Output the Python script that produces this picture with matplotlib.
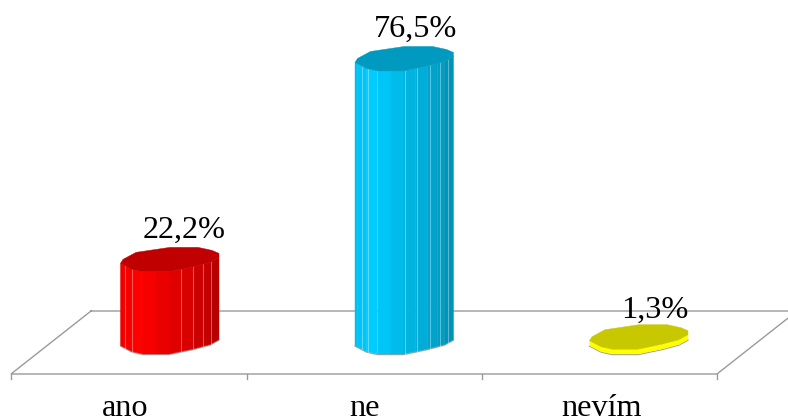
import numpy as np
import matplotlib
matplotlib.use("Agg")
import matplotlib.pyplot as plt
from matplotlib.patches import Polygon

# Survey answers and their shares in percent
categories = ["ano", "ne", "nevím"]
values = [22.2, 76.5, 1.3]
value_labels = ["22,2%", "76,5%", "1,3%"]

side_colors = [(1.0, 0.0, 0.0), (0.0, 0.8, 1.0), (1.0, 1.0, 0.0)]
top_colors = ["#c00000", "#0099c0", "#c8c800"]

W, H = 788, 420
X0, STEP = 170.0, 234.5      # pixel centre of the first column and column spacing
Y0, UNIT = 342.0, 3.7        # pixel height of the zero level and pixels per percent
FONT_SIZE = 23.2

fig = plt.figure(figsize=(W / 100, H / 100), dpi=100, facecolor="white")
ax = fig.add_axes([0, 0, 1, 1])
ax.set_xlim(-X0 / STEP, (W - X0) / STEP)
ax.set_ylim((Y0 - H) / UNIT, Y0 / UNIT)
ax.axis("off")


def from_px(x, y):
    """Convert pixel positions (y measured downwards) to data coordinates."""
    return (np.asarray(x, float) - X0) / STEP, (Y0 - np.asarray(y, float)) / UNIT


# Floor of the 3D plot and the category ticks
GRAY = "#9a9a9a"
floor_x = [91, 797, 717, 11, 91]
floor_y = [311, 311, 374, 374, 311]
fx, fy = from_px(floor_x, floor_y)
ax.plot(fx, fy, color=GRAY, lw=1.0, zorder=1, solid_joinstyle="miter")
for tick in [11, 247, 482, 717]:
    tx, ty = from_px([tick, tick], [374, 379])
    ax.plot(tx, ty, color=GRAY, lw=1.0, zorder=1)

# Outline of the many-sided column, in pixels around its centre
front_u = np.array([-49.5, -38, -27, -1, 23, 40, 49])
front_v = np.array([3.5, 9.5, 12, 12, 7, 2.5, -2.5])
back_u = np.array([49, 42, 28, 0, -34, -47])
back_v = np.array([-6.5, -9.5, -12.5, -12.5, -7.5, -0.5])

# Facets of the visible side, with their shading from left to right
facet_edges = np.array([-49.5, -47, -38, -27, -14, -1, 11, 23, 33, 40, 49])
facet_shade = [0.93, 0.96, 1.0, 0.97, 0.92, 0.88, 0.85, 0.80, 0.77, 0.72]
seam_positions = [[-45, -38, 11, 23, 33, 41],
                  [-43, -37, 0, 12, 25, 35, 43],
                  []]

# Horizontal and baseline offsets of each value label from its column top
label_dx = [14, 11, 16]
label_dy = [22, 22, 19]

for i, (value, side, top) in enumerate(zip(values, side_colors, top_colors)):
    cx = X0 + STEP * i
    top_y = Y0 - value * UNIT

    for k, shade in enumerate(facet_shade):
        u = facet_edges[k:k + 2]
        v = np.interp(u, front_u, front_v)
        xs = np.r_[cx + u, cx + u[::-1]]
        ys = np.r_[top_y + v, Y0 + v[::-1]]
        px, py = from_px(xs, ys)
        color = side if i == 2 else tuple(c * shade for c in side)
        ax.add_patch(Polygon(np.c_[px, py], closed=True, facecolor=color,
                             edgecolor=color, lw=0.3, zorder=3))

    for seam in seam_positions[i]:
        v = np.interp(seam, front_u, front_v)
        sx, sy = from_px([cx + seam, cx + seam], [top_y + v, Y0 + v])
        ax.plot(sx, sy, color="white", alpha=0.35, lw=0.8, zorder=4)

    # Thin shadow line under the front of the column
    bx, by = from_px(cx + front_u, Y0 + front_v + 0.6)
    ax.plot(bx, by, color="#a0a0a0", lw=0.9, zorder=2)

    # Top face
    tx, ty = from_px(cx + np.r_[front_u, back_u], top_y + np.r_[front_v, back_v])
    ax.add_patch(Polygon(np.c_[tx, ty], closed=True, facecolor=top,
                         edgecolor=top, lw=0.3, zorder=5))

    # Value label above the column
    lx, ly = from_px(cx + label_dx[i], top_y - label_dy[i])
    ax.text(lx, ly, value_labels[i], family="Liberation Serif", fontsize=FONT_SIZE,
            color="black", ha="center", va="baseline", zorder=6)

# Category labels below the floor
for name, x_px in zip(categories, [125.5, 365, 602]):
    lx, ly = from_px(x_px, 416.5)
    ax.text(lx, ly, name, family="Liberation Serif", fontsize=FONT_SIZE,
            color="black", ha="center", va="baseline", zorder=6)

fig.savefig("out.png", dpi=100, facecolor="white")
